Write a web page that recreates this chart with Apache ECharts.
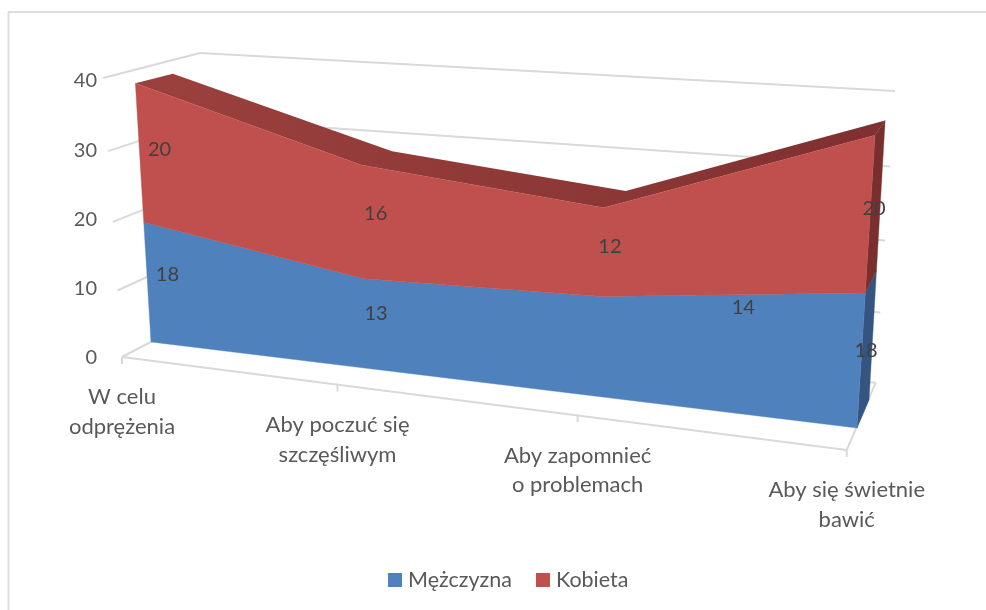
<!DOCTYPE html>
<html>
<head>
<meta charset="utf-8">
<style>html,body{margin:0;padding:0;background:#fff}#c{width:986px;height:610px}</style>
<script src="https://cdn.jsdelivr.net/npm/echarts@6/dist/echarts.min.js"></script>
</head>
<body>
<div id="c"></div>
<script>
var categories = ['W celu\nodprężenia', 'Aby poczuć się\nszczęśliwym', 'Aby zapomnieć\no problemach', 'Aby się świetnie\nbawić'];
var seriesNames = ['Mężczyzna', 'Kobieta'];
var men = [18, 13, 14, 18];
var women = [20, 16, 12, 20];
var valueTicks = [0, 10, 20, 30, 40];

// ---- perspective set-up (styling only: no data) ----
var GRID = {left: 97, top: 81, width: 750, height: 277};
var FONT = 'Lato, Carlito, Calibri, sans-serif';
function plane(q) { // unit square -> quad (Heckbert)
  var x0=q[0][0],y0=q[0][1],x1=q[1][0],y1=q[1][1],x2=q[2][0],y2=q[2][1],x3=q[3][0],y3=q[3][1];
  var dx1=x1-x2,dx2=x3-x2,sx=x0-x1+x2-x3,dy1=y1-y2,dy2=y3-y2,sy=y0-y1+y2-y3;
  var den=dx1*dy2-dx2*dy1,g=(sx*dy2-dx2*sy)/den,h=(dx1*sy-sx*dy1)/den;
  var a=x1-x0+g*x1,b=x3-x0+h*x3,d=y1-y0+g*y1,e=y3-y0+h*y3;
  return function(s,t){var w=g*s+h*t+1;return [(a*s+b*t+x0)/w,(d*s+e*t+y0)/w];};
}
// corners: (s=0,t=0) (s=1,t=0) (s=1,t=1) (s=0,t=1); t=1 is the axis maximum
var frontPlane = plane([[151,342],[857,428],[876,119],[134.5,69]]);
var backPlane  = plane([[188,323],[869,400],[886,105],[172,60]]);
var leftWall   = plane([[122,357],[212,310],[200,53],[103,78]]);
var backWall   = plane([[212,310],[875.7,382.7],[895,91],[200,53]]);
var floorPlane = plane([[122,357],[846.7,450],[875.7,382.7],[216,307.9]]);
function st(api,i,v){ // library scales -> unit coordinates
  var p=api.coord([i,v]);
  return [(p[0]-GRID.left)/GRID.width,(GRID.top+GRID.height-p[1])/GRID.height];
}
function pf(api,i,v){var c=st(api,i,v);return frontPlane(c[0],c[1]);}
function pb(api,i,v){var c=st(api,i,v);return backPlane(c[0],c[1]);}
function poly(points,fill){return {type:'polygon',shape:{points:points},style:{fill:fill,stroke:fill,lineWidth:0.4}};}
function line(a,b){return {type:'line',shape:{x1:a[0],y1:a[1],x2:b[0],y2:b[1]},style:{stroke:'#d9d9d9',lineWidth:2,fill:null}};}
function label(p,txt){return {type:'text',z2:50,style:{x:p[0],y:p[1],text:String(txt),fill:'#404040',font:'20px '+FONT,align:'center',verticalAlign:'middle'}};}

var labelShiftMen = [[20,-8],[11,-10],[142,-40],[5,-11]];
var labelShiftWomen = [[20,-4],[13,-9],[7,-6],[4,-7]];
var topShade = {type:'linear',x:136,y:0,x2:885,y2:0,global:true,colorStops:[
  {offset:0,color:'#9b403d'},{offset:0.6,color:'#8c3836'},{offset:1,color:'#7f2f2f'}]};

function stacked(i){ return men[i]+women[i]; }

var option = {
  animation:false,
  backgroundColor:'#fff',
  grid:{left:GRID.left,top:GRID.top,width:GRID.width,height:GRID.height,containLabel:false},
  xAxis:{type:'category',boundaryGap:false,data:categories,show:false},
  yAxis:{type:'value',min:0,max:40,interval:10,axisLine:{show:false},axisTick:{show:false},splitLine:{show:false},
    axisLabel:{margin:0,color:'#595959',fontSize:20,fontFamily:FONT}},
  legend:{data:seriesNames,left:383,top:564,itemWidth:14,itemHeight:14,itemGap:24,icon:'rect',
    textStyle:{color:'#595959',fontSize:21.5,fontFamily:FONT,padding:[0,0,0,1]}},
  graphic:[
    {type:'line',silent:true,shape:{x1:8,y1:12,x2:986,y2:12},style:{stroke:'#dedede',lineWidth:2}},
    {type:'line',silent:true,shape:{x1:8.5,y1:12,x2:8.5,y2:610},style:{stroke:'#dedede',lineWidth:2}}
  ],
  series:[
    {type:'custom',name:'walls',coordinateSystem:'cartesian2d',silent:true,z:1,data:valueTicks.map(function(v,k){return [k,v];}),
      renderItem:function(params,api){
        var k=params.dataIndex, v=api.value(1), t=st(api,0,v)[1], ch=[];
        ch.push(line(leftWall(0,t),leftWall(1,t)));
        ch.push(line(backWall(0,t),backWall(1,t)));
        if(k===0){
          ch.push(line(floorPlane(0,0),floorPlane(1,0)));
          ch.push(line(floorPlane(1,0),floorPlane(1,1)));
        }
        if(k<categories.length){
          var s=st(api,k,0)[0], a=floorPlane(s,0);
          ch.push(line(a,[a[0],a[1]+7]));
          ch.push({type:'text',style:{x:a[0],y:a[1]+55,text:categories[k],fill:'#595959',font:'22px '+FONT,align:'center',verticalAlign:'middle',lineHeight:29.5}});
        }
        return {type:'group',children:ch};
      }},
    {type:'custom',name:seriesNames[0],coordinateSystem:'cartesian2d',silent:true,z:2,itemStyle:{color:'#4f81bd'},
      data:men.map(function(v,i){return [i,v];}),
      renderItem:function(params,api){
        var i=params.dataIndex, ch=[], n=men.length;
        if(i===0){
          var pts=[], j;
          for(j=0;j<n;j++) pts.push(pf(api,j,men[j]));
          pts.push(pf(api,n-1,0)); pts.push(pf(api,0,0));
          ch.push(poly([pf(api,n-1,0),pb(api,n-1,0),pb(api,n-1,men[n-1]),pf(api,n-1,men[n-1])],'#355580'));
          ch.push(poly(pts,'#4f81bd'));
        }
        var m=pf(api,i,men[i]/2);
        ch.push(label([m[0]+labelShiftMen[i][0],m[1]+labelShiftMen[i][1]],api.value(1)));
        return {type:'group',children:ch};
      }},
    {type:'custom',name:seriesNames[1],coordinateSystem:'cartesian2d',silent:true,z:3,itemStyle:{color:'#c0504d'},
      data:women.map(function(v,i){return [i,v];}),
      renderItem:function(params,api){
        var i=params.dataIndex, ch=[], n=women.length;
        if(i===0){
          var pts=[], topPts=[], j;
          for(j=0;j<n;j++) pts.push(pf(api,j,stacked(j)));
          for(j=0;j<n;j++) topPts.push(pf(api,j,stacked(j)));
          for(j=n-1;j>=0;j--) topPts.push(pb(api,j,stacked(j)));
          for(j=n-1;j>=0;j--) pts.push(pf(api,j,men[j]));
          ch.push({type:'polygon',shape:{points:topPts},style:{fill:topShade}});
          ch.push(poly([pf(api,n-1,men[n-1]),pb(api,n-1,men[n-1]),pb(api,n-1,stacked(n-1)),pf(api,n-1,stacked(n-1))],'#7a2f2f'));
          ch.push(poly(pts,'#c0504d'));
        }
        var m=pf(api,i,men[i]+women[i]/2);
        ch.push(label([m[0]+labelShiftWomen[i][0],m[1]+labelShiftWomen[i][1]],api.value(1)));
        return {type:'group',children:ch};
      }}
  ]
};
echarts.init(document.getElementById('c'),null,{renderer:'canvas'}).setOption(option);
</script>
</body>
</html>
